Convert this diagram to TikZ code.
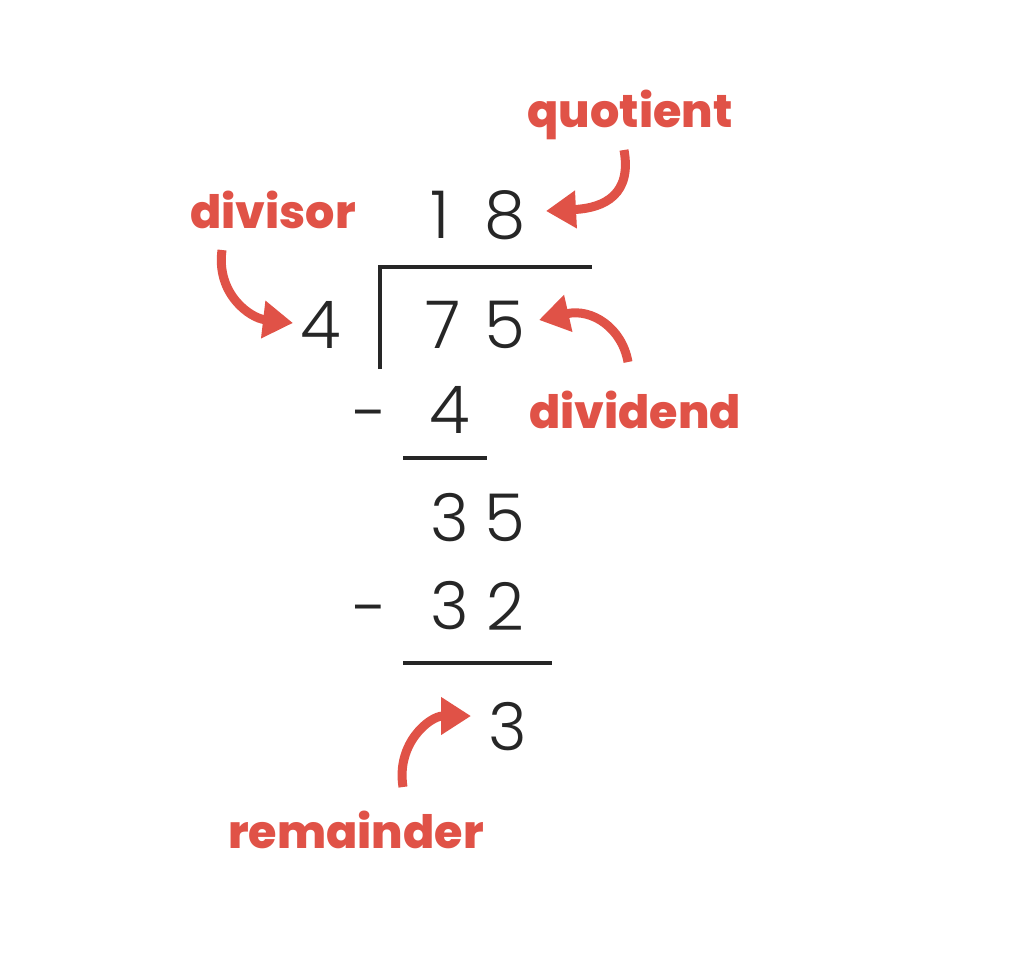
\documentclass[tikz,border=0pt]{standalone}
\usepackage{fontspec}
\setmainfont{Poppins}
\newfontfamily\digitfont{Poppins Light}
\newfontfamily\labelfont{Poppins ExtraBold}
\usetikzlibrary{arrows.meta}
\definecolor{annot}{RGB}{224,82,71}
\tikzset{
  digit/.style={inner sep=0pt, font=\digitfont\fontsize{66}{66}\selectfont, text=black!85},
  lbl/.style={inner sep=0pt, font=\labelfont\fontsize{46}{46}\selectfont, text=annot},
  rule/.style={line width=3.5pt, black!85},
  arr/.style={annot, line width=9pt, -{Triangle[length=30pt,width=36pt]}}
}
\begin{document}
\begin{tikzpicture}[x=1pt,y=-1pt]
\useasboundingbox (0,0) rectangle (1023,972);
% labels
\node[lbl] (quot) at (630,115) {quotient};
\node[lbl] (divs) at (273,210) {divisor};
\node[lbl] (divd) at (635,410) {dividend};
\node[lbl] (rem) at (356,830) {remainder};
% quotient
\node[digit] (q1) at (440,215) {1};
\node[digit] (q2) at (505,215) {8};
% divisor and dividend
\node[digit] (d) at (321,325) {4};
\node[digit] (n1) at (443,325) {7};
\node[digit] (n2) at (505,325) {5};
% first subtraction
\node[digit] (m1) at (371,423) {-};
\node[digit] (s1) at (450,410) {4};
% remainder after first step
\node[digit] (r1) at (450,518) {3};
\node[digit] (r2) at (505,518) {5};
% second subtraction
\node[digit] (m2) at (371,618) {-};
\node[digit] (s2a) at (450,606) {3};
\node[digit] (s2b) at (505,606) {2};
% final remainder
\node[digit] (fr) at (508,727) {3};
% bracket and rules
\coordinate (bTop) at (380,267);
\coordinate (bEnd) at (592,267);
\coordinate (bBot) at (380,369);
\draw[rule] (bBot) -- (bTop) -- (bEnd);
\coordinate (l1a) at (403,458);
\coordinate (l1b) at (487,458);
\draw[rule] (l1a) -- (l1b);
\coordinate (l2a) at (403,663);
\coordinate (l2b) at (552,663);
\draw[rule] (l2a) -- (l2b);
% arrows
\coordinate (qa) at (624,150);
\coordinate (qb) at (546,211);
\draw[arr] (qa) .. controls (632,194) and (605,208) .. (qb);
\coordinate (da) at (222,250);
\coordinate (db) at (293,323);
\draw[arr] (da) .. controls (216,294) and (250,318) .. (db);
\coordinate (va) at (628,362);
\coordinate (vb) at (539,320);
\draw[arr] (va) .. controls (622,328) and (592,308) .. (vb);
\coordinate (ra) at (403,787);
\coordinate (rb) at (471,716);
\draw[arr] (ra) .. controls (396,743) and (430,716) .. (rb);
\end{tikzpicture}
\end{document}
